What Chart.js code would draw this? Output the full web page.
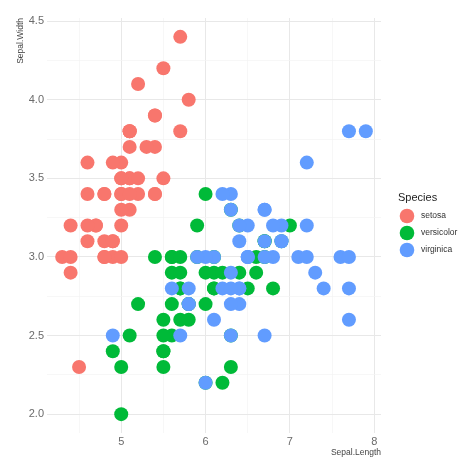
<!DOCTYPE html>
<html>
<head>
<meta charset="utf-8">
<script src="https://cdn.jsdelivr.net/npm/chart.js@4/dist/chart.umd.min.js"></script>
<style>
  html, body { margin: 0; padding: 0; background: #fff; }
  #wrap { width: 474px; height: 474px; }
</style>
</head>
<body>
<div id="wrap"><canvas id="chart" width="474" height="474"></canvas></div>
<script>
// iris: Sepal.Length / Sepal.Width by species
const species = ["setosa", "versicolor", "virginica"];
const colors = ["#F8766D", "#00BA38", "#619CFF"];

const setosaLength = [5.1,4.9,4.7,4.6,5.0,5.4,4.6,5.0,4.4,4.9,5.4,4.8,4.8,4.3,5.8,5.7,5.4,5.1,5.7,5.1,5.4,5.1,4.6,5.1,4.8,5.0,5.0,5.2,5.2,4.7,4.8,5.4,5.2,5.5,4.9,5.0,5.5,4.9,4.4,5.1,5.0,4.5,4.4,5.0,5.1,4.8,5.1,4.6,5.3,5.0];
const setosaWidth = [3.5,3.0,3.2,3.1,3.6,3.9,3.4,3.4,2.9,3.1,3.7,3.4,3.0,3.0,4.0,4.4,3.9,3.5,3.8,3.8,3.4,3.7,3.6,3.3,3.4,3.0,3.4,3.5,3.4,3.2,3.1,3.4,4.1,4.2,3.1,3.2,3.5,3.6,3.0,3.4,3.5,2.3,3.2,3.5,3.8,3.0,3.8,3.2,3.7,3.3];

const versicolorLength = [7.0,6.4,6.9,5.5,6.5,5.7,6.3,4.9,6.6,5.2,5.0,5.9,6.0,6.1,5.6,6.7,5.6,5.8,6.2,5.6,5.9,6.1,6.3,6.1,6.4,6.6,6.8,6.7,6.0,5.7,5.5,5.5,5.8,6.0,5.4,6.0,6.7,6.3,5.6,5.5,5.5,6.1,5.8,5.0,5.6,5.7,5.7,6.2,5.1,5.7];
const versicolorWidth = [3.2,3.2,3.1,2.3,2.8,2.8,3.3,2.4,2.9,2.7,2.0,3.0,2.2,2.9,2.9,3.1,3.0,2.7,2.2,2.5,3.2,2.8,2.5,2.8,2.9,3.0,2.8,3.0,2.9,2.6,2.4,2.4,2.7,2.7,3.0,3.4,3.1,2.3,3.0,2.5,2.6,3.0,2.6,2.3,2.7,3.0,2.9,2.9,2.5,2.8];

const virginicaLength = [6.3,5.8,7.1,6.3,6.5,7.6,4.9,7.3,6.7,7.2,6.5,6.4,6.8,5.7,5.8,6.4,6.5,7.7,7.7,6.0,6.9,5.6,7.7,6.3,6.7,7.2,6.2,6.1,6.4,7.2,7.4,7.9,6.4,6.3,6.1,7.7,6.3,6.4,6.0,6.9,6.7,6.9,5.8,6.8,6.7,6.7,6.3,6.5,6.2,5.9];
const virginicaWidth = [3.3,2.7,3.0,2.9,3.0,3.0,2.5,2.9,2.5,3.6,3.2,2.7,3.0,2.5,2.8,3.2,3.0,3.8,2.6,2.2,3.2,2.8,2.8,2.7,3.3,3.2,2.8,3.0,2.8,3.0,2.8,3.8,2.8,2.8,2.6,3.0,3.4,3.1,3.0,3.1,3.1,3.1,2.7,3.2,3.3,3.0,2.5,3.0,3.4,3.0];

const xTicks = [5, 6, 7, 8];
const yTicks = [2.0, 2.5, 3.0, 3.5, 4.0, 4.5];

function toPoints(xs, ys) {
  return xs.map((x, i) => ({ x: x, y: ys[i] }));
}

const series = [
  toPoints(setosaLength, setosaWidth),
  toPoints(versicolorLength, versicolorWidth),
  toPoints(virginicaLength, virginicaWidth)
];

const isMajor = (v, list) => list.some(t => Math.abs(t - v) < 1e-6);

// ggplot-like legend drawn on the right
const sideLegend = {
  id: "sideLegend",
  afterDraw(chart) {
    const ctx = chart.ctx;
    ctx.save();
    ctx.fillStyle = "#222";
    ctx.font = "11px 'Liberation Sans', Arial, sans-serif";
    ctx.textBaseline = "middle";
    ctx.textAlign = "left";
    ctx.fillText("Species", 398, 198);
    species.forEach((name, i) => {
      const cy = 216 + i * 17;
      ctx.beginPath();
      ctx.arc(407, cy, 7.3, 0, Math.PI * 2);
      ctx.fillStyle = colors[i];
      ctx.fill();
      ctx.fillStyle = "#333";
      ctx.font = "8.5px 'Liberation Sans', Arial, sans-serif";
      ctx.fillText(name, 421, cy);
    });
    ctx.restore();
  }
};

new Chart(document.getElementById("chart"), {
  type: "scatter",
  data: {
    datasets: species.map((name, i) => ({
      label: name,
      data: series[i],
      backgroundColor: colors[i],
      borderWidth: 0,
      pointRadius: 7,
      pointHoverRadius: 7,
      order: 3 - i
    }))
  },
  options: {
    responsive: false,
    animation: false,
    devicePixelRatio: 1,
    layout: { padding: { top: 18, right: 93, left: 16, bottom: 16 } },
    plugins: {
      legend: { display: false },
      tooltip: { enabled: false }
    },
    scales: {
      x: {
        type: "linear",
        min: 4.12,
        max: 8.08,
        border: { display: false },
        grid: {
          drawTicks: false,
          color: ctx => isMajor(ctx.tick.value, xTicks) ? "#E8E8E8" : "#F3F3F3",
          lineWidth: ctx => isMajor(ctx.tick.value, xTicks) ? 1 : 0.7
        },
        ticks: {
          stepSize: 0.5,
          includeBounds: false,
          autoSkip: false,
          maxRotation: 0,
          padding: 2,
          color: "#6b6b6b",
          font: { size: 11, family: "'Liberation Sans', Arial, sans-serif" },
          callback: v => isMajor(v, xTicks) ? String(v) : ""
        },
        title: {
          display: true,
          text: "Sepal.Length",
          align: "end",
          color: "#444",
          padding: { top: 2, bottom: 0 },
          font: { size: 8.5, family: "'Liberation Sans', Arial, sans-serif" }
        },
        afterFit: s => { s.height = 25; }
      },
      y: {
        type: "linear",
        min: 1.88,
        max: 4.52,
        border: { display: false },
        grid: {
          drawTicks: false,
          color: ctx => isMajor(ctx.tick.value, yTicks) ? "#E8E8E8" : "#F3F3F3",
          lineWidth: ctx => isMajor(ctx.tick.value, yTicks) ? 1 : 0.7
        },
        ticks: {
          stepSize: 0.25,
          includeBounds: false,
          autoSkip: false,
          padding: 3,
          color: "#6b6b6b",
          font: { size: 11, family: "'Liberation Sans', Arial, sans-serif" },
          callback: v => isMajor(v, yTicks) ? v.toFixed(1) : ""
        },
        title: {
          display: true,
          text: "Sepal.Width",
          align: "end",
          color: "#444",
          padding: { top: 0, bottom: 2 },
          font: { size: 8.5, family: "'Liberation Sans', Arial, sans-serif" }
        },
        afterFit: s => { s.width = 31; }
      }
    }
  },
  plugins: [sideLegend]
});
</script>
</body>
</html>
